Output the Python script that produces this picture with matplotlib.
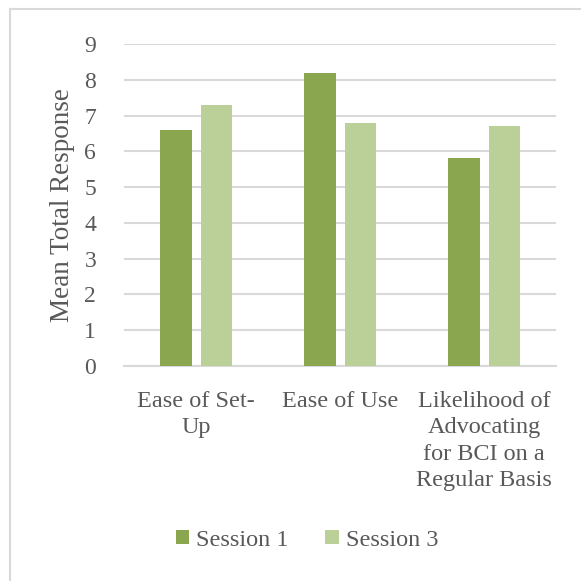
import matplotlib
matplotlib.use("Agg")
import matplotlib.pyplot as plt
from matplotlib.lines import Line2D
import numpy as np

categories = ["Ease of Set-\nUp", "Ease of Use", "Likelihood of\nAdvocating\nfor BCI on a\nRegular Basis"]
session1 = [6.6, 8.2, 5.8]
session3 = [7.3, 6.8, 6.7]
series_names = ["Session 1", "Session 3"]

dark = "#8AA64F"
light = "#BBD098"
grid_col = "#D9D9D9"
text_col = "#595959"

plt.rcParams["font.family"] = ["Liberation Serif", "DejaVu Serif"]

fig = plt.figure(figsize=(5.81, 5.81), dpi=100)
ax = fig.add_axes([124 / 581, 1 - 366 / 581, (556 - 124) / 581, (366 - 44) / 581])

x = np.arange(len(categories))
w = 0.222
gap = 0.0625
ax.bar(x - (w + gap) / 2, session1, w, color=dark, label=series_names[0], zorder=3)
ax.bar(x + (w + gap) / 2, session3, w, color=light, label=series_names[1], zorder=3)

ax.set_xlim(-0.5, 2.5)
ax.set_ylim(0, 9)
ax.set_yticks(range(0, 10))
ax.yaxis.grid(True, color=grid_col, linewidth=1.5, zorder=0)
ax.set_axisbelow(True)
for s in ["top", "right", "left"]:
    ax.spines[s].set_visible(False)
ax.spines["bottom"].set_color(grid_col)
ax.spines["bottom"].set_linewidth(1.5)
ax.tick_params(length=0, colors=text_col)
ax.tick_params(axis="y", pad=20, labelsize=17)
ax.tick_params(axis="x", pad=18, labelsize=17.5)
ax.set_xticks(x)
ax.set_xticklabels(categories, linespacing=1.33)
ax.set_ylabel("Mean Total Response", fontsize=19.5, color=text_col, labelpad=7)

leg = fig.legend(loc="center", bbox_to_anchor=(307 / 581, 1 - 540 / 581), ncol=2,
                 frameon=False, fontsize=17.5, handlelength=0.55, handleheight=0.55,
                 handletextpad=0.3, columnspacing=1.5)
for t in leg.get_texts():
    t.set_color(text_col)

# outer chart border (left and top edges visible)
fig.add_artist(Line2D([10 / 581, 10 / 581], [0, 1 - 9 / 581], color=grid_col, linewidth=1.5))
fig.add_artist(Line2D([10 / 581, 1], [1 - 9 / 581, 1 - 9 / 581], color=grid_col, linewidth=1.5))

fig.savefig("out.png", dpi=100, facecolor="white")
